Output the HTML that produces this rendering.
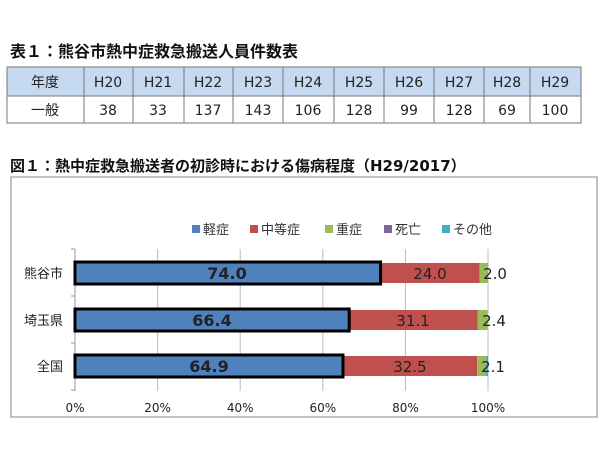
<!DOCTYPE html>
<html><head><meta charset="utf-8"><style>
body{margin:0;background:#fff;}
svg{display:block;font-family:"DejaVu Sans","Noto Sans CJK JP",sans-serif;}
</style></head><body>
<svg width="600" height="450" viewBox="0 0 600 450" xmlns="http://www.w3.org/2000/svg">
<text x="10" y="57" font-size="16" font-weight="bold" fill="#111">表１：熊谷市熱中症救急搬送人員件数表</text>
<g stroke="#777" stroke-width="1">
<rect x="7" y="67" width="574" height="29" fill="#c5d9f1"/>
<rect x="7" y="96" width="574" height="27" fill="#fff"/>
<line x1="84" y1="67" x2="84" y2="123"/><line x1="133" y1="67" x2="133" y2="123"/>
<line x1="184" y1="67" x2="184" y2="123"/><line x1="233" y1="67" x2="233" y2="123"/>
<line x1="283" y1="67" x2="283" y2="123"/><line x1="334" y1="67" x2="334" y2="123"/>
<line x1="384" y1="67" x2="384" y2="123"/><line x1="434" y1="67" x2="434" y2="123"/>
<line x1="484" y1="67" x2="484" y2="123"/><line x1="530" y1="67" x2="530" y2="123"/>
</g>
<g font-size="14" fill="#222" text-anchor="middle">
<text x="45" y="87">年度</text><text x="108" y="87">H20</text><text x="158" y="87">H21</text><text x="208" y="87">H22</text><text x="258" y="87">H23</text><text x="308" y="87">H24</text><text x="359" y="87">H25</text><text x="409" y="87">H26</text><text x="459" y="87">H27</text><text x="507" y="87">H28</text><text x="555" y="87">H29</text>
<text x="45" y="115">一般</text><text x="108" y="115">38</text><text x="158" y="115">33</text><text x="208" y="115">137</text><text x="258" y="115">143</text><text x="308" y="115">106</text><text x="359" y="115">128</text><text x="409" y="115">99</text><text x="459" y="115">128</text><text x="507" y="115">69</text><text x="555" y="115">100</text>
</g>
<text x="10" y="171" font-size="15" font-weight="bold" fill="#111">図１：熱中症救急搬送者の初診時における傷病程度（H29/2017）</text>
<rect x="11" y="177" width="586" height="240" fill="#fff" stroke="#999" stroke-width="1.2"/>
<g font-size="13" fill="#333">
<rect x="192" y="225" width="8" height="8" fill="#4f81bd"/><text x="203" y="234">軽症</text>
<rect x="250" y="225" width="8" height="8" fill="#c0504d"/><text x="261" y="234">中等症</text>
<rect x="325" y="225" width="8" height="8" fill="#9bbb59"/><text x="336" y="234">重症</text>
<rect x="384" y="225" width="8" height="8" fill="#8064a2"/><text x="395" y="234">死亡</text>
<rect x="442" y="225" width="8" height="8" fill="#4bacc6"/><text x="453" y="234">その他</text>
</g>
<g stroke="#bbb" stroke-width="1">
<line x1="157.6" y1="249" x2="157.6" y2="391"/><line x1="240.2" y1="249" x2="240.2" y2="391"/>
<line x1="322.8" y1="249" x2="322.8" y2="391"/><line x1="405.4" y1="249" x2="405.4" y2="391"/>
<line x1="488" y1="249" x2="488" y2="391"/>
</g>
<g stroke="#999" stroke-width="1">
<line x1="75" y1="249" x2="75" y2="391"/>
<line x1="71" y1="249" x2="75" y2="249"/><line x1="71" y1="296" x2="75" y2="296"/><line x1="71" y1="343" x2="75" y2="343"/><line x1="71" y1="390" x2="75" y2="390"/>
</g>
<rect x="380.6" y="263" width="99.1" height="20" fill="#c0504d"/>
<rect x="479.7" y="263" width="8.3" height="20" fill="#9bbb59"/>
<rect x="75" y="262" width="305.6" height="22" fill="#4f81bd" stroke="#000" stroke-width="3"/>
<rect x="349.2" y="310" width="128.4" height="20" fill="#c0504d"/>
<rect x="477.6" y="310" width="9.9" height="20" fill="#9bbb59"/>
<rect x="75" y="309" width="274.2" height="22" fill="#4f81bd" stroke="#000" stroke-width="3"/>
<rect x="343" y="356" width="134.2" height="20" fill="#c0504d"/>
<rect x="477.2" y="356" width="8.7" height="20" fill="#9bbb59"/>
<rect x="485.9" y="356" width="2.1" height="20" fill="#4bacc6"/>
<rect x="75" y="355" width="268" height="22" fill="#4f81bd" stroke="#000" stroke-width="3"/>
<g font-size="15" fill="#222" text-anchor="middle">
<text x="227" y="279" font-weight="bold" font-size="16">74.0</text>
<text x="430" y="279">24.0</text>
<text x="495" y="279">2.0</text>
<text x="212" y="326" font-weight="bold" font-size="16">66.4</text>
<text x="413" y="326">31.1</text>
<text x="494" y="326">2.4</text>
<text x="209" y="372" font-weight="bold" font-size="16">64.9</text>
<text x="410" y="372">32.5</text>
<text x="493" y="372">2.1</text>
</g>
<g font-size="13" fill="#222" text-anchor="end">
<text x="63" y="278">熊谷市</text><text x="63" y="325">埼玉県</text><text x="63" y="371">全国</text>
</g>
<g font-size="12" fill="#222" text-anchor="middle">
<text x="75" y="412">0%</text><text x="157.6" y="412">20%</text><text x="240.2" y="412">40%</text><text x="322.8" y="412">60%</text><text x="405.4" y="412">80%</text><text x="488" y="412">100%</text>
</g>
</svg>
</body></html>
